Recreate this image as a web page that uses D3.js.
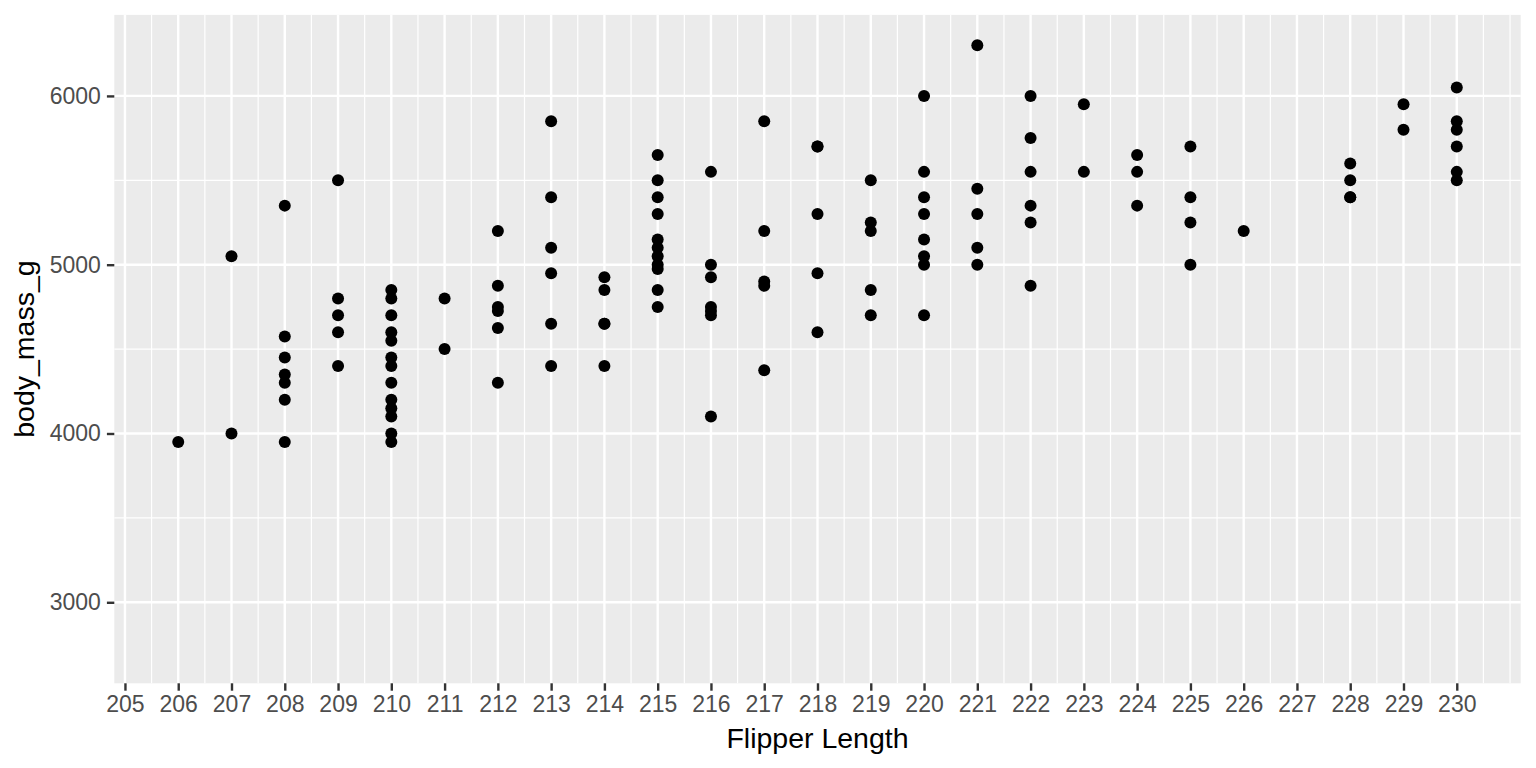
<!DOCTYPE html>
<html>
<head>
<meta charset="utf-8">
<script src="https://cdn.jsdelivr.net/npm/d3@7"></script>
<style>
  html, body { margin: 0; padding: 0; background: #ffffff; }
  svg { display: block; }
  text { font-family: "Liberation Sans", Arial, Helvetica, sans-serif; }
</style>
</head>
<body>
<svg id="chart" width="1536" height="768"></svg>
<script>
// ---- data (flipper length -> body masses observed) ----
const flipperLengths = [206, 207, 208, 209, 210, 211, 212, 213, 214, 215, 216, 217, 218, 219, 220, 221, 222, 223, 224, 225, 226, 228, 229, 230];
const bodyMasses = [
  [3950],
  [5050, 4000],
  [5350, 4575, 4450, 4350, 4300, 4200, 3950],
  [5500, 4800, 4700, 4600, 4400],
  [4850, 4800, 4700, 4600, 4550, 4450, 4400, 4300, 4200, 4150, 4100, 4000, 3950],
  [4800, 4500],
  [5200, 4875, 4750, 4725, 4625, 4300],
  [5850, 5400, 5100, 4950, 4650, 4400],
  [4925, 4850, 4650, 4650, 4400],
  [5650, 5500, 5400, 5300, 5150, 5100, 5050, 5000, 4975, 4850, 4750],
  [5550, 5000, 4925, 4750, 4725, 4700, 4100],
  [5850, 5200, 4900, 4875, 4375],
  [5700, 5700, 5300, 4950, 4600],
  [5500, 5250, 5200, 4850, 4700],
  [6000, 5550, 5400, 5300, 5150, 5050, 5000, 4700],
  [6300, 5450, 5300, 5100, 5000],
  [6000, 5750, 5550, 5350, 5250, 4875],
  [5950, 5550],
  [5650, 5550, 5350],
  [5700, 5400, 5250, 5000],
  [5200],
  [5600, 5500, 5400, 5400],
  [5950, 5800],
  [6050, 5850, 5800, 5700, 5550, 5500]
];
const xTicks = [205, 206, 207, 208, 209, 210, 211, 212, 213, 214, 215, 216, 217, 218, 219, 220, 221, 222, 223, 224, 225, 226, 227, 228, 229, 230];
const yTicks = [3000, 4000, 5000, 6000];
const yMinorTicks = [3500, 4500, 5500];
const xDomain = [204.8, 231.2];
const yDomain = [2520, 6480];
const xLabel = "Flipper Length";
const yLabel = "body_mass_g";

const points = [];
flipperLengths.forEach((f, i) => bodyMasses[i].forEach(m => points.push({ x: f, y: m })));

// ---- layout ----
const panel = { left: 114.3, right: 1520.7, top: 14.9, bottom: 683.3 };
const svg = d3.select("#chart");

const x = d3.scaleLinear().domain(xDomain).range([panel.left, panel.right]);
const y = d3.scaleLinear().domain(yDomain).range([panel.bottom, panel.top]);

// minor x breaks: every half unit between/around majors, excluding majors
const xMinor = [];
for (let v = xTicks[0] - 1; v <= xTicks[xTicks.length - 1] + 1 + 1e-9; v += 0.5) {
  if (v >= xDomain[0] && v <= xDomain[1] && !xTicks.includes(v)) xMinor.push(v);
}

// panel background
svg.append("rect")
  .attr("x", panel.left).attr("y", panel.top)
  .attr("width", panel.right - panel.left).attr("height", panel.bottom - panel.top)
  .attr("fill", "#ebebeb");

const grid = svg.append("g");
// minor grid
grid.selectAll(".xminor").data(xMinor).join("line")
  .attr("x1", d => x(d)).attr("x2", d => x(d))
  .attr("y1", panel.top).attr("y2", panel.bottom)
  .attr("stroke", "#ffffff").attr("stroke-width", 1.2);
grid.selectAll(".yminor").data(yMinorTicks).join("line")
  .attr("x1", panel.left).attr("x2", panel.right)
  .attr("y1", d => y(d)).attr("y2", d => y(d))
  .attr("stroke", "#ffffff").attr("stroke-width", 1.2);
// major grid
grid.selectAll(".xmajor").data(xTicks).join("line")
  .attr("x1", d => x(d)).attr("x2", d => x(d))
  .attr("y1", panel.top).attr("y2", panel.bottom)
  .attr("stroke", "#ffffff").attr("stroke-width", 2.4);
grid.selectAll(".ymajor").data(yTicks).join("line")
  .attr("x1", panel.left).attr("x2", panel.right)
  .attr("y1", d => y(d)).attr("y2", d => y(d))
  .attr("stroke", "#ffffff").attr("stroke-width", 2.4);

// points
svg.append("g").selectAll("circle").data(points).join("circle")
  .attr("cx", d => x(d.x)).attr("cy", d => y(d.y))
  .attr("r", 6).attr("fill", "#000000");

// axes
const xAxis = d3.axisBottom(x).tickValues(xTicks).tickFormat(d3.format("d"))
  .tickSizeInner(7.4).tickSizeOuter(0).tickPadding(5);
const gx = svg.append("g").attr("transform", `translate(0,${panel.bottom})`).call(xAxis);
gx.select(".domain").remove();
gx.selectAll(".tick line").attr("stroke", "#333333").attr("stroke-width", 2.4);
gx.selectAll(".tick text").attr("fill", "#4d4d4d").attr("font-size", 23)
  .attr("font-family", "'Liberation Sans', Arial, sans-serif");

const yAxis = d3.axisLeft(y).tickValues(yTicks).tickFormat(d3.format("d"))
  .tickSizeInner(7.4).tickSizeOuter(0).tickPadding(6);
const gy = svg.append("g").attr("transform", `translate(${panel.left},0)`).call(yAxis);
gy.select(".domain").remove();
gy.selectAll(".tick line").attr("stroke", "#333333").attr("stroke-width", 2.4);
gy.selectAll(".tick text").attr("fill", "#4d4d4d").attr("font-size", 23)
  .attr("font-family", "'Liberation Sans', Arial, sans-serif");

// axis titles
svg.append("text")
  .attr("x", (panel.left + panel.right) / 2).attr("y", 747.7)
  .attr("text-anchor", "middle").attr("font-size", 28.5).attr("fill", "#000000")
  .text(xLabel);
svg.append("text")
  .attr("transform", `translate(33.5,${(panel.top + panel.bottom) / 2}) rotate(-90)`)
  .attr("text-anchor", "middle").attr("font-size", 28.5).attr("fill", "#000000")
  .text(yLabel);
</script>
</body>
</html>
